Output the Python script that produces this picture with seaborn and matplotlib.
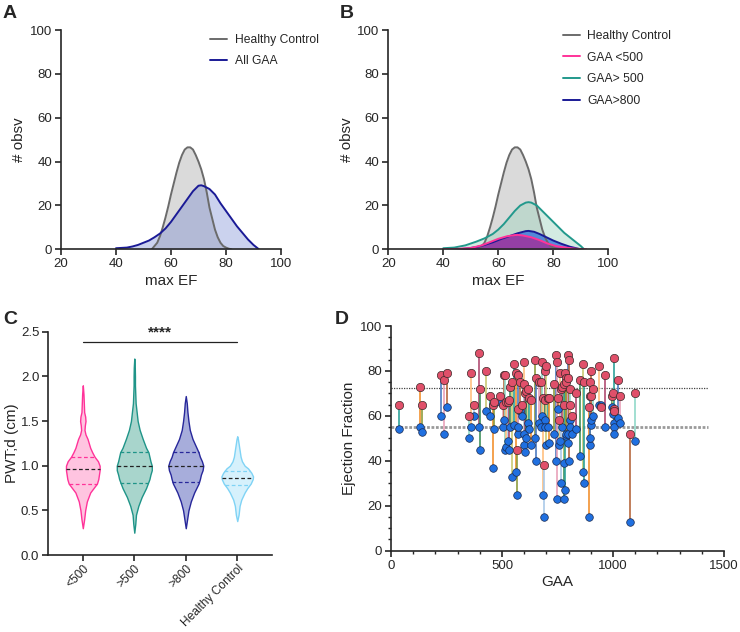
import numpy as np
import pandas as pd
import matplotlib
matplotlib.use("Agg")
import matplotlib.pyplot as plt
from matplotlib.ticker import MultipleLocator
import seaborn as sns

# ---- A / B : max EF frequency curves ----
hc_x = [53, 55, 56, 57, 58, 59, 60, 61, 62, 63, 64, 65, 66, 67, 68, 69, 70, 71, 72, 73, 74, 75, 76, 77, 78, 79, 80, 81, 82]
hc_y = [0, 3, 6, 10, 14.5, 19.5, 25, 30, 35, 39.5, 43, 45.5, 46.5, 46.5, 45.5, 43, 40, 36.5, 32, 26, 19, 14, 9, 5.5, 3, 1.5, 0.8, 0.3, 0]

all_x = [40, 44, 46, 48, 50, 52, 54, 56, 58, 60, 62, 64, 66, 68, 70, 71, 72, 74, 76, 78, 80, 82, 84, 86, 88, 90, 92]
all_y = [0.5, 0.8, 1.3, 2, 3, 4, 5.5, 7.2, 9.5, 12.5, 16, 19.5, 23, 26.5, 29, 29.2, 28.8, 27.5, 25, 21, 17.5, 14, 10.5, 7.5, 4.5, 2, 0]

gt500_x = [40, 44, 48, 52, 55, 58, 60, 62, 64, 66, 68, 70, 71, 72, 74, 76, 78, 80, 82, 84, 86, 88, 90, 91]
gt500_y = [0.5, 0.8, 1.8, 3.5, 5, 7, 9, 11.5, 14.5, 17.5, 20, 21.3, 21.5, 21.3, 20, 17.5, 15, 12.5, 10, 7.5, 5.5, 3.5, 1.5, 0.3]

gt800_x = [45, 48, 52, 55, 58, 61, 64, 67, 70, 71, 73, 75, 77, 80, 83, 86, 89, 90]
gt800_y = [0, 0.3, 1, 2, 3.2, 4.7, 6, 7.3, 8.3, 8.4, 8, 7, 5.8, 4, 2.5, 1.2, 0.3, 0]

lt500_x = [40, 45, 50, 54, 57, 60, 63, 66, 67, 69, 72, 75, 78, 81, 84, 87, 90, 92]
lt500_y = [0, 0.2, 0.6, 1.8, 3.3, 4.8, 5.9, 6.5, 6.6, 6.3, 5.5, 4.2, 2.6, 1.5, 0.9, 0.4, 0.1, 0]

# ---- C : PWTd violins (profile read as half-width in px at each level) ----
groups = ["<500", ">500", ">800", "Healthy Control"]
v_lt500_y = [0.30, 0.40, 0.50, 0.60, 0.70, 0.75, 0.80, 0.85, 0.90, 0.95, 1.00, 1.05, 1.10, 1.15, 1.20, 1.25, 1.30, 1.35, 1.40, 1.45, 1.50, 1.55, 1.60, 1.70, 1.80, 1.90]
v_lt500_w = [0, 4, 7, 12, 22, 32, 42, 46, 48, 50, 50, 45, 35, 28, 22, 18, 14, 8, 5, 6, 8, 7, 4, 3, 2, 0]
v_gt500_y = [0.25, 0.35, 0.45, 0.55, 0.65, 0.75, 0.80, 0.85, 0.90, 0.95, 1.00, 1.05, 1.10, 1.15, 1.20, 1.30, 1.40, 1.50, 1.60, 1.70, 1.80, 1.90, 2.00, 2.10, 2.20]
v_gt500_w = [0, 3, 5, 12, 22, 35, 40, 45, 48, 52, 52, 48, 45, 42, 35, 25, 16, 10, 7, 4, 3, 2, 2, 1.5, 0]
v_gt800_y = [0.30, 0.40, 0.50, 0.60, 0.70, 0.80, 0.85, 0.90, 0.95, 1.00, 1.05, 1.10, 1.15, 1.20, 1.30, 1.40, 1.50, 1.60, 1.70, 1.78]
v_gt800_w = [0, 4, 8, 15, 25, 38, 42, 45, 50, 52, 48, 42, 38, 32, 20, 12, 8, 5, 3, 0]
v_hc_y = [0.38, 0.45, 0.55, 0.62, 0.70, 0.75, 0.80, 0.85, 0.88, 0.92, 0.97, 1.00, 1.05, 1.10, 1.20, 1.30, 1.33]
v_hc_w = [0, 4, 7, 12, 22, 30, 40, 46, 47, 42, 32, 22, 14, 10, 6, 2, 0]
quart_lt500 = [0.80, 0.96, 1.10]
quart_gt500 = [0.81, 1.00, 1.15]
quart_gt800 = [0.82, 1.00, 1.15]
quart_hc = [0.78, 0.86, 0.94]

# ---- D : paired EF vs GAA ----
gaa = [38, 130, 138, 224, 238, 252, 352, 362, 372, 396, 402, 428, 445, 460, 466, 491, 503, 509, 513, 518,
       527, 532, 536, 546, 554, 561, 566, 571, 574, 583, 591, 598, 601, 605, 610, 615, 620, 630, 650, 652,
       665, 675, 680, 685, 690, 692, 695, 700, 705, 710, 735, 744, 747, 750, 755, 760, 766, 770, 777, 780,
       784, 788, 790, 795, 799, 803, 806, 808, 814, 832, 851, 866, 870, 891, 896, 898, 900, 903, 911, 936,
       948, 963, 997, 998, 1003, 1003, 1004, 1022, 1032, 1078, 1100]
ef_max = [65, 73, 65, 78, 76, 79, 60, 79, 65, 88, 72, 80, 69, 65, 66, 69, 65, 78, 78, 66,
          66, 67, 73, 75, 83, 79, 45, 78, 63, 75, 65, 84, 74, 70, 71, 72, 68, 67, 85, 77,
          75, 75, 84, 68, 38, 80, 67, 82, 68, 68, 74, 87, 84, 68, 58, 79, 72, 73, 74, 65,
          79, 77, 75, 87, 77, 85, 72, 65, 60, 70, 76, 83, 75, 64, 75, 69, 69, 80, 72, 82,
          64, 78, 69, 70, 86, 63, 62, 76, 69, 52, 70]
ef_rest = [54, 55, 53, 60, 52, 64, 50, 55, 60, 55, 45, 62, 60, 37, 54, 66, 55, 58, 45, 46,
           49, 45, 55, 33, 56, 35, 25, 52, 55, 62, 60, 52, 47, 44, 50, 57, 54, 47, 50, 40,
           57, 55, 60, 25, 15, 58, 55, 47, 55, 48, 52, 40, 23, 63, 47, 49, 30, 55, 23, 39,
           27, 51, 52, 48, 52, 40, 58, 55, 52, 54, 42, 35, 30, 15, 47, 50, 56, 58, 60, 65,
           65, 55, 64, 61, 57, 55, 52, 59, 57, 13, 49]
ref_upper = 72.5
ref_lower = 55

sns.set_style("ticks")
plt.rcParams["font.family"] = ["Liberation Sans", "DejaVu Sans"]
plt.rcParams["axes.linewidth"] = 1.2
plt.rcParams["xtick.major.width"] = 1.2
plt.rcParams["ytick.major.width"] = 1.2
plt.rcParams["xtick.major.size"] = 4
plt.rcParams["ytick.major.size"] = 4
plt.rcParams["xtick.major.pad"] = 2.5
plt.rcParams["ytick.major.pad"] = 2.5
plt.rcParams["xtick.labelsize"] = 9.5
plt.rcParams["ytick.labelsize"] = 9.5
plt.rcParams["axes.labelsize"] = 11
plt.rcParams["axes.labelpad"] = 2.5

fig = plt.figure(figsize=(7.4, 6.32), dpi=100)


def dens_axes(ax):
    ax.set_xlim(20, 100)
    ax.set_ylim(0, 100)
    ax.xaxis.set_major_locator(MultipleLocator(20))
    ax.yaxis.set_major_locator(MultipleLocator(20))
    ax.set_xlabel("max EF")
    ax.set_ylabel("# obsv")
    sns.despine(ax=ax)


def curve(ax, x, y, line, fill, alpha, label):
    ax.fill_between(x, y, 0, color=fill, alpha=alpha, lw=0)
    sns.lineplot(x=x, y=y, color=line, lw=1.4, ax=ax, label=label)


# A
axA = fig.add_axes([0.0824, 0.6055, 0.2973, 0.347])
curve(axA, hc_x, hc_y, "#6b6b6b", "#d4d4d4", 0.85, "Healthy Control")
curve(axA, all_x, all_y, "#1a1a96", "#6c80d0", 0.35, "All GAA")
dens_axes(axA)
axA.legend(frameon=False, loc="upper left", bbox_to_anchor=(0.63, 1.03), fontsize=8.7,
           handlelength=1.4, handletextpad=0.6, labelspacing=0.75)

# B
axB = fig.add_axes([0.5247, 0.6055, 0.2973, 0.347])
curve(axB, hc_x, hc_y, "#6b6b6b", "#d4d4d4", 0.85, "Healthy Control")
curve(axB, gt500_x, gt500_y, "#22998c", "#9fd4bf", 0.45, "GAA> 500")
curve(axB, gt800_x, gt800_y, "#1a1a96", "#2f6fdc", 0.75, "GAA>800")
curve(axB, lt500_x, lt500_y, "#ff3399", "#b02090", 0.7, "GAA <500")
dens_axes(axB)
h, l = axB.get_legend_handles_labels()
order = [0, 3, 1, 2]
axB.legend([h[i] for i in order], [l[i] for i in order], frameon=False, loc="upper left",
           bbox_to_anchor=(0.745, 1.05), fontsize=8.7, handlelength=1.4, handletextpad=0.6,
           labelspacing=0.8)

# C
axC = fig.add_axes([0.0653, 0.1218, 0.3019, 0.3533])
vio = [(v_lt500_y, v_lt500_w, quart_lt500, "#ff3399", "#ffc4e0"),
       (v_gt500_y, v_gt500_w, quart_gt500, "#1f9488", "#a8d5cc"),
       (v_gt800_y, v_gt800_w, quart_gt800, "#27279a", "#a7addb"),
       (v_hc_y, v_hc_w, quart_hc, "#7fd3f5", "#d6f1fc")]
for i, (vy, vw, q, lc, fc) in enumerate(vio):
    vy = np.array(vy)
    hw = np.array(vw) / 153.0
    axC.fill_betweenx(vy, i - hw, i + hw, facecolor=fc, edgecolor=lc, lw=1.0)
    for k, qv in enumerate(q):
        w = np.interp(qv, vy, hw)
        axC.plot([i - w, i + w], [qv, qv], ls=(0, (3, 2)), lw=0.9,
                 color="#222222" if k == 1 else lc)
axC.set_xlim(-0.67, 3.67)
axC.set_ylim(0, 2.5)
axC.yaxis.set_major_locator(MultipleLocator(0.5))
axC.yaxis.set_major_formatter(matplotlib.ticker.FormatStrFormatter("%.1f"))
axC.set_xticks(range(len(groups)))
axC.set_xticklabels(groups, rotation=45, ha="right", rotation_mode="anchor", fontsize=8.6)
axC.tick_params(axis="x", pad=1.5)
axC.set_ylabel("PWT;d (cm)", labelpad=1)
axC.plot([0, 3], [2.38, 2.38], color="#222222", lw=0.9)
axC.text(1.5, 2.41, "****", ha="center", va="bottom", fontsize=11, fontweight="bold")
sns.despine(ax=axC)

# D
axD = fig.add_axes([0.5284, 0.1286, 0.450, 0.3555])
line_cols = ["#2aa198", "#f28e2b", "#8c9b3a", "#4a78c0", "#e8a0b8", "#b5653a", "#8fd8c8",
             "#ffbe7d", "#a8c8e8", "#b04870", "#3f8f5a", "#c8c870"]
axD.hlines(ref_upper, 0, 1430, color="#444444", lw=0.9, ls=(0, (1, 1)))
axD.hlines(ref_lower, 0, 1430, color="#9a9a9a", lw=2.0, ls=(0, (1, 0.6)))
for i, (g, a, b) in enumerate(zip(gaa, ef_max, ef_rest)):
    axD.plot([g, g], [a, b], color=line_cols[i % len(line_cols)], lw=1.3, alpha=0.9, zorder=2)
df = pd.DataFrame({"GAA": gaa, "max": ef_max, "rest": ef_rest})
sns.scatterplot(data=df, x="GAA", y="rest", color="#2070e0", edgecolor="#1a2a50", linewidth=0.5,
                s=30, ax=axD, zorder=3)
sns.scatterplot(data=df, x="GAA", y="max", color="#e0506a", edgecolor="#3a2a2a", linewidth=0.5,
                s=36, ax=axD, zorder=4)
axD.set_xlim(0, 1500)
axD.set_ylim(0, 100)
axD.xaxis.set_major_locator(MultipleLocator(500))
axD.xaxis.set_minor_locator(MultipleLocator(100))
axD.yaxis.set_major_locator(MultipleLocator(20))
axD.yaxis.set_minor_locator(MultipleLocator(5))
axD.tick_params(which="minor", length=2.5, width=1.0)
axD.set_xlabel("GAA")
axD.set_ylabel("Ejection Fraction")
sns.despine(ax=axD)

for txt, x, y in [("A", 0.003, 0.992), ("B", 0.459, 0.992), ("C", 0.004, 0.508), ("D", 0.453, 0.508)]:
    fig.text(x, y, txt, fontsize=14, fontweight="bold", va="top", ha="left")

fig.savefig("out.png", dpi=100)
